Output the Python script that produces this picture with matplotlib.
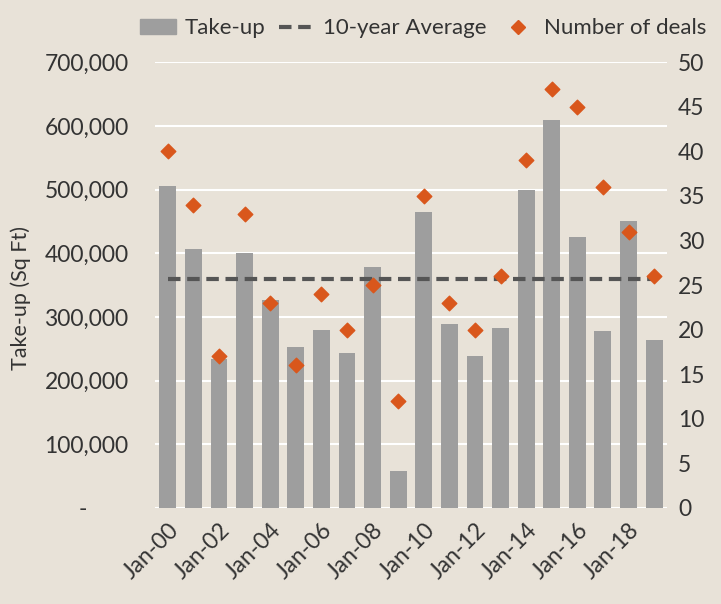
import matplotlib
matplotlib.use("Agg")
import matplotlib.pyplot as plt
import matplotlib.ticker as ticker
from matplotlib.lines import Line2D
from matplotlib.patches import Patch

# data
years = [f"Jan-{y:02d}" for y in range(0, 20)]
take_up = [505000, 407000, 234000, 401000, 326000, 252000, 280000, 244000, 379000, 58000,
           464000, 289000, 238000, 282000, 499000, 609000, 425000, 278000, 451000, 264000]
deals = [40, 34, 17, 33, 23, 16, 24, 20, 25, 12, 35, 23, 20, 26, 39, 47, 45, 36, 31, 26]
ten_year_avg = 359000

BG = "#e8e2d8"
BAR = "#9e9e9e"
DIAMOND = "#d9571c"
AVG = "#555555"
TEXT = "#333333"

plt.rcParams["font.family"] = ["Lato", "DejaVu Sans"]

fig = plt.figure(figsize=(7.21, 6.04), dpi=100, facecolor=BG)
ax = fig.add_axes([0.215, 0.159, 0.71, 0.738])
ax.set_facecolor(BG)
ax2 = ax.twinx()

xs = list(range(len(years)))
ax.bar(xs, take_up, width=0.66, color=BAR, zorder=2)
ax.plot([xs[0], xs[-1]], [ten_year_avg, ten_year_avg], color=AVG, linestyle=(0, (3, 1.6)),
        linewidth=3, zorder=3)
ax2.scatter(xs, deals, marker="D", s=55, color=DIAMOND, zorder=4)

ax.set_xlim(-0.5, 19.5)
ax.set_ylim(0, 700000)
ax2.set_ylim(0, 50)
ax.set_yticks(range(0, 700001, 100000))
# accounting-style zero: a dash sitting left of the number column
ax.yaxis.set_major_formatter(ticker.FuncFormatter(
    lambda v, p: "-" + " " * 7 if v == 0 else f"{v:,.0f}"))
ax2.set_yticks(range(0, 51, 5))

ax.set_xticks(xs[::2])
ax.set_xticklabels(years[::2], rotation=45, ha="right", rotation_mode="anchor")

ax.grid(axis="y", color="white", linewidth=1.5, zorder=0)
ax.set_axisbelow(True)
for a in (ax, ax2):
    for s in a.spines.values():
        s.set_visible(False)
    a.tick_params(length=0, labelsize=16.5, colors=TEXT)
ax.tick_params(axis="y", pad=19)
ax.tick_params(axis="x", pad=8)
ax2.tick_params(axis="y", pad=8)
ax.set_ylabel("Take-up (Sq Ft)", fontsize=15.5, color=TEXT)
ax.yaxis.set_label_coords(-0.242, 0.47)

handles = [Patch(color=BAR, label="Take-up"),
           Line2D([], [], color=AVG, linestyle=(0, (3, 1.6)), linewidth=3, label="10-year Average"),
           Line2D([], [], color=DIAMOND, marker="D", linestyle="none", markersize=7,
                  label="Number of deals")]
fig.legend(handles=handles, loc="center right", bbox_to_anchor=(1.008, 0.953), ncol=3,
           frameon=False, fontsize=16, handlelength=1.6, handletextpad=0.4, columnspacing=0.6,
           labelcolor=TEXT)

fig.savefig("out.png", dpi=100, facecolor=BG)
